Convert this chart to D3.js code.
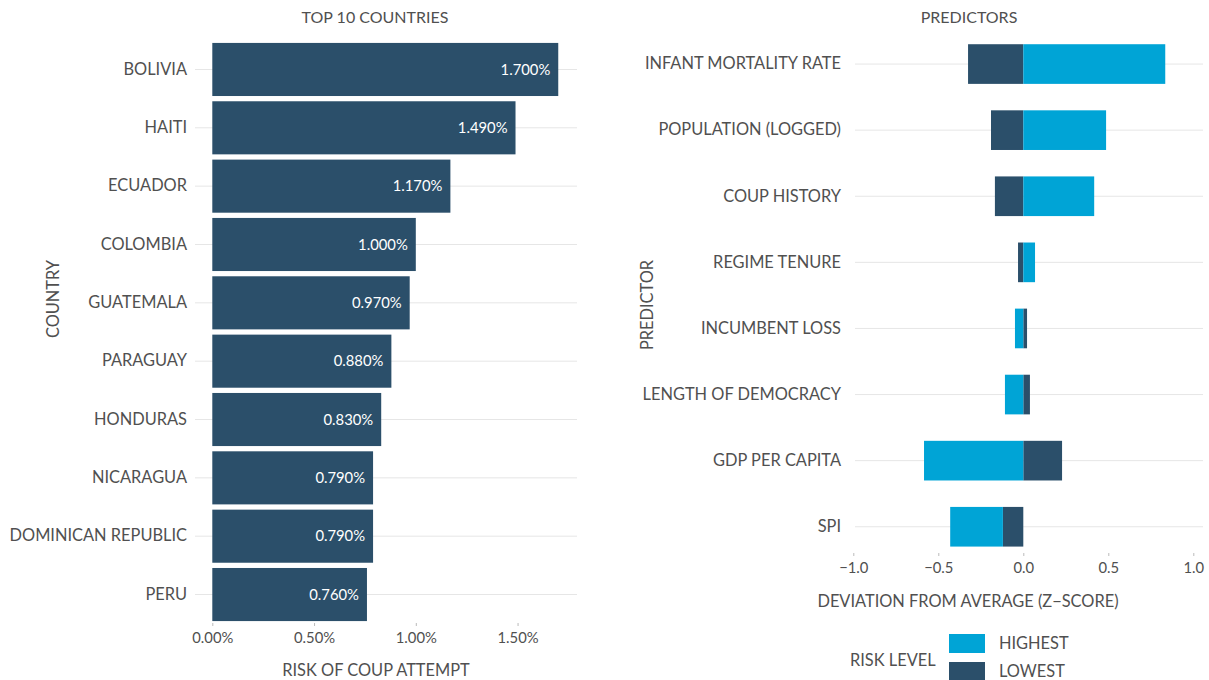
<!DOCTYPE html>
<html>
<head>
<meta charset="utf-8">
<script src="https://cdn.jsdelivr.net/npm/d3@7"></script>
<style>
  body { margin: 0; background: #fff; }
  svg text { font-family: Lato, "Open Sans", sans-serif; fill: #505050; }
</style>
</head>
<body>
<div id="chart"></div>
<script>
// Datos: riesgo por país
const countries = ["BOLIVIA", "HAITI", "ECUADOR", "COLOMBIA", "GUATEMALA",
  "PARAGUAY", "HONDURAS", "NICARAGUA", "DOMINICAN REPUBLIC", "PERU"];
const risk = [1.70, 1.49, 1.17, 1.00, 0.97, 0.88, 0.83, 0.79, 0.79, 0.76];
const riskTicks = [0, 0.5, 1.0, 1.5];

// Datos: predictores (z-score)
const predictors = ["INFANT MORTALITY RATE", "POPULATION (LOGGED)", "COUP HISTORY",
  "REGIME TENURE", "INCUMBENT LOSS", "LENGTH OF DEMOCRACY", "GDP PER CAPITA", "SPI"];
const highest = [0.835, 0.487, 0.417, 0.069, -0.049, -0.108, -0.584, -0.31];
const lowest = [-0.325, -0.19, -0.167, -0.031, 0.022, 0.039, 0.228, -0.12];
const zTicks = [-1.0, -0.5, 0.0, 0.5, 1.0];
const levels = ["HIGHEST", "LOWEST"];

const dark = "#2b4f6a";
const light = "#00a4d6";
const grid = "#e6e6e6";

const svg = d3.select("#chart").append("svg")
  .attr("width", 1209)
  .attr("height", 680);

// ---------- Panel izquierdo ----------
const x1 = d3.scaleLinear().domain([0, 1]).range([212.3, 415.8]);
const y1 = d3.scaleBand()
  .domain(countries)
  .range([40.3, 623.7])
  .paddingInner(0.09)
  .paddingOuter(0.045);

const left = svg.append("g");

// líneas de cuadrícula
left.selectAll("line.grid")
  .data(countries)
  .enter().append("line")
  .attr("x1", 195).attr("x2", 577)
  .attr("y1", d => y1(d) + y1.bandwidth() / 2)
  .attr("y2", d => y1(d) + y1.bandwidth() / 2)
  .attr("stroke", grid).attr("stroke-width", 1);

left.selectAll("rect")
  .data(countries)
  .enter().append("rect")
  .attr("x", x1(0))
  .attr("y", d => y1(d))
  .attr("width", (d, i) => x1(risk[i]) - x1(0))
  .attr("height", y1.bandwidth())
  .attr("fill", dark);

left.selectAll("text.val")
  .data(countries)
  .enter().append("text")
  .attr("x", (d, i) => x1(risk[i]) - 8)
  .attr("y", d => y1(d) + y1.bandwidth() / 2)
  .attr("dy", "0.35em")
  .attr("text-anchor", "end")
  .attr("font-size", 14.8)
  .style("fill", "#fff")
  .text((d, i) => risk[i].toFixed(3) + "%");

// eje Y
const yAxis1 = left.append("g")
  .attr("transform", "translate(196,0)")
  .call(d3.axisLeft(y1).tickSize(0).tickPadding(9));
yAxis1.select(".domain").remove();
yAxis1.selectAll("text").attr("font-size", 16.4).attr("font-family", null);

// eje X
const xAxis1 = left.append("g")
  .attr("transform", "translate(0,623)")
  .call(d3.axisBottom(x1).tickValues(riskTicks).tickSize(3).tickPadding(6)
    .tickFormat(d => d.toFixed(2) + "%"));
xAxis1.select(".domain").remove();
xAxis1.selectAll("line").attr("stroke", "#bbb");
xAxis1.selectAll("text").attr("font-size", 14.8).attr("font-family", null);

left.append("text")
  .attr("x", 375).attr("y", 23)
  .attr("text-anchor", "middle")
  .attr("font-size", 16)
  .text("TOP 10 COUNTRIES");

left.append("text")
  .attr("x", 376).attr("y", 676)
  .attr("text-anchor", "middle")
  .attr("font-size", 16.4)
  .text("RISK OF COUP ATTEMPT");

left.append("text")
  .attr("transform", "translate(59,299) rotate(-90)")
  .attr("text-anchor", "middle")
  .attr("font-size", 16.4)
  .text("COUNTRY");

// ---------- Panel derecho ----------
const x2 = d3.scaleLinear().domain([0, 1]).range([1023.3, 1193.3]);
const y2 = d3.scaleBand()
  .domain(predictors)
  .range([31, 559.8])
  .paddingInner(0.4)
  .paddingOuter(0.2);

const rows = predictors.map((p, i) => ({ predictor: p, LOWEST: lowest[i], HIGHEST: highest[i] }));
const stacked = d3.stack()
  .keys(["LOWEST", "HIGHEST"])
  .offset(d3.stackOffsetDiverging)(rows);

const right = svg.append("g");

right.selectAll("line.grid")
  .data(predictors)
  .enter().append("line")
  .attr("x1", 855).attr("x2", 1203)
  .attr("y1", d => y2(d) + y2.bandwidth() / 2)
  .attr("y2", d => y2(d) + y2.bandwidth() / 2)
  .attr("stroke", grid).attr("stroke-width", 1);

right.selectAll("g.layer")
  .data(stacked)
  .enter().append("g")
  .attr("fill", d => d.key === "HIGHEST" ? light : dark)
  .selectAll("rect")
  .data(d => d)
  .enter().append("rect")
  .attr("x", d => x2(Math.min(d[0], d[1])))
  .attr("y", d => y2(d.data.predictor))
  .attr("width", d => Math.abs(x2(d[1]) - x2(d[0])))
  .attr("height", y2.bandwidth());

const yAxis2 = right.append("g")
  .attr("transform", "translate(855,0)")
  .call(d3.axisLeft(y2).tickSize(0).tickPadding(14));
yAxis2.select(".domain").remove();
yAxis2.selectAll("text").attr("font-size", 16.4).attr("font-family", null);

const xAxis2 = right.append("g")
  .attr("transform", "translate(0,553)")
  .call(d3.axisBottom(x2).tickValues(zTicks).tickSize(3).tickPadding(6)
    .tickFormat(d => d3.format(".1f")(d).replace("-", "\u2212")));
xAxis2.select(".domain").remove();
xAxis2.selectAll("line").attr("stroke", "#bbb");
xAxis2.selectAll("text").attr("font-size", 14.8).attr("font-family", null);

right.append("text")
  .attr("x", 969).attr("y", 23)
  .attr("text-anchor", "middle")
  .attr("font-size", 16)
  .text("PREDICTORS");

right.append("text")
  .attr("x", 968).attr("y", 607)
  .attr("text-anchor", "middle")
  .attr("font-size", 16.4)
  .text("DEVIATION FROM AVERAGE (Z\u2212SCORE)");

right.append("text")
  .attr("transform", "translate(653,305) rotate(-90)")
  .attr("text-anchor", "middle")
  .attr("font-size", 16.4)
  .text("PREDICTOR");

// Leyenda
const legend = right.append("g");
legend.append("text")
  .attr("x", 850).attr("y", 660)
  .attr("dy", "0.35em")
  .attr("font-size", 16.4)
  .text("RISK LEVEL");

legend.selectAll("rect")
  .data(levels)
  .enter().append("rect")
  .attr("x", 949)
  .attr("y", (d, i) => 634 + i * 28)
  .attr("width", 36)
  .attr("height", 19)
  .attr("fill", d => d === "HIGHEST" ? light : dark);

legend.selectAll("text.lab")
  .data(levels)
  .enter().append("text")
  .attr("x", 999)
  .attr("y", (d, i) => 643 + i * 28)
  .attr("dy", "0.35em")
  .attr("font-size", 16.4)
  .text(d => d);
</script>
</body>
</html>
